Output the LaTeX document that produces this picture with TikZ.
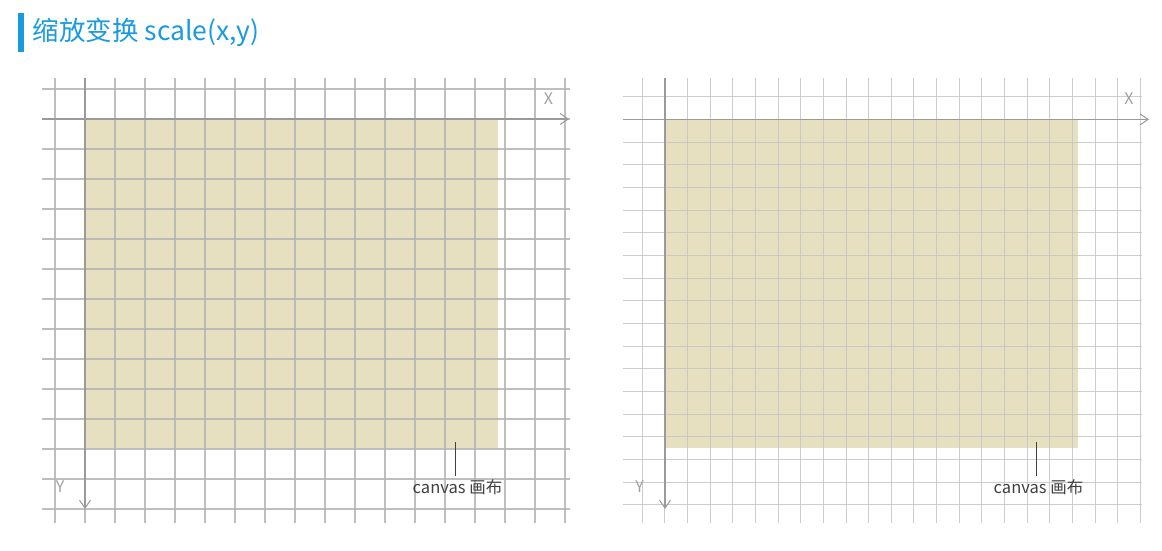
\documentclass[tikz,border=0pt]{standalone}
\usepackage{fontspec}
\setmainfont{Noto Sans CJK SC}
\usetikzlibrary{arrows.meta}
\definecolor{titleblue}{HTML}{1A9BE0}
\definecolor{canvasfill}{HTML}{E6E0C0}
\definecolor{gridgray}{HTML}{B4B4B4}
\definecolor{gridlight}{HTML}{C4C4C4}
\definecolor{axisgray}{HTML}{9A9A9A}
\definecolor{labelgray}{HTML}{A0A0A0}
\definecolor{textdark}{HTML}{404040}
\tikzset{
  gridline/.style={draw=gridgray, line width=1.1pt, opacity=0.85},
  gridlinelight/.style={draw=gridlight, line width=1pt, opacity=0.85},
  axisline/.style={draw=axisgray, line width=1.2pt, -{Straight Barb[length=8pt,width=11pt,line width=1pt]}},
  canvasbox/.style={fill=canvasfill, draw=none},
  axislabel/.style={text=labelgray, font=\fontsize{16}{16}\selectfont, inner sep=0pt},
  canvaslabel/.style={text=textdark, font=\fontsize{16.5}{16.5}\selectfont, inner sep=0pt},
  leader/.style={draw=textdark, line width=0.9pt},
  titletext/.style={text=titleblue, font=\fontsize{26.5}{26.5}\selectfont, inner sep=0pt, anchor=west},
}
\begin{document}
\begin{tikzpicture}[x=1pt,y=-1pt]
\useasboundingbox (0,0) rectangle (1162,551);
% title
\fill[titleblue] (18,13) rectangle (24,52);
\node[titletext] (title) at (32.5,32.5) {缩放变换 scale(x,y)};

% ---------- left panel ----------
\fill[canvasbox] (85,119) rectangle (498,448);
\foreach \k in {0,...,14} {
  \draw[gridline] (42,{89+30*\k}) -- (570,{89+30*\k});
}
\foreach \k in {0,...,17} {
  \draw[gridline] ({55+30*\k},78) -- ({55+30*\k},523);
}
\coordinate (lxs) at (42,119);
\coordinate (lxe) at (569,119);
\coordinate (lys) at (85,78);
\coordinate (lye) at (85,509);
\draw[axisline] (lxs) -- (lxe);
\draw[axisline] (lys) -- (lye);
\node[axislabel] (lX) at (548.5,98.5) {X};
\node[axislabel] (lY) at (60,486.5) {Y};
\node[canvaslabel] (lcv) at (457.5,487.5) {canvas 画布};
\coordinate (lcvtop) at (455,442);
\coordinate (lcvbot) at (455,476);
\draw[leader] (lcvtop) -- (lcvbot);
% ---------- right panel ----------
\fill[canvasbox] (665,119) rectangle (1078,447.5);
\foreach \k in {0,...,18} {
  \draw[gridlinelight] (623,{96.7+22.68*\k}) -- (1142,{96.7+22.68*\k});
}
\foreach \k in {0,...,22} {
  \draw[gridlinelight] ({642.3+22.64*\k},78) -- ({642.3+22.64*\k},523);
}
\coordinate (rxs) at (623,119.4);
\coordinate (rxe) at (1149,119.4);
\coordinate (rys) at (665,78);
\coordinate (rye) at (665,509);
\draw[axisline] (rxs) -- (rxe);
\draw[axisline] (rys) -- (rye);
\node[axislabel] (rX) at (1129,98.5) {X};
\node[axislabel] (rY) at (639.5,486.5) {Y};
\node[canvaslabel] (rcv) at (1038.5,487.5) {canvas 画布};
\coordinate (rcvtop) at (1036,442);
\coordinate (rcvbot) at (1036,476);
\draw[leader] (rcvtop) -- (rcvbot);
\end{tikzpicture}
\end{document}
